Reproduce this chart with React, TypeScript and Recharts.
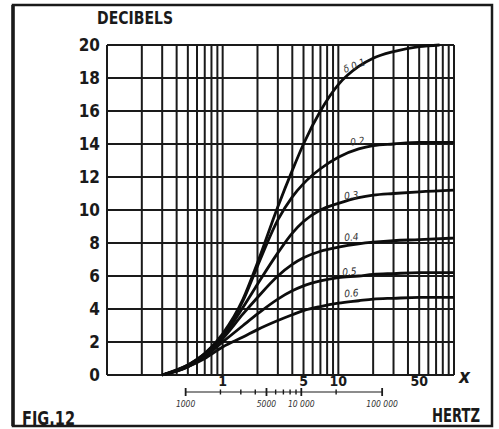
import { CartesianGrid, Line, LineChart, XAxis, YAxis } from "recharts";

// x = f / f0 (log scale), gain in dB, one curve per value of delta
const xValues = [0.3, 0.5, 0.7, 1, 1.5, 2, 3, 4, 5, 7, 10, 15, 20, 30, 50, 100];
const xValuesTop = [0.3, 0.5, 0.7, 1, 1.5, 2, 3, 4, 5, 7, 10, 15, 20, 30, 50, 75];

const delta01 = [0, 0.6, 1.3, 2.5, 4.6, 6.8, 10.2, 12.4, 14.0, 16.0, 17.6, 18.7, 19.2, 19.6, 19.9, 20.0];
const delta02 = [0, 0.6, 1.3, 2.4, 4.5, 6.6, 9.4, 10.8, 11.6, 12.5, 13.2, 13.7, 13.9, 14.0, 14.1, 14.1];
const delta03 = [0, 0.6, 1.2, 2.3, 4.1, 5.5, 7.4, 8.6, 9.3, 10.0, 10.4, 10.75, 10.9, 11.0, 11.1, 11.2];
const delta04 = [0, 0.5, 1.2, 2.2, 3.7, 4.7, 6.0, 6.7, 7.1, 7.5, 7.75, 7.95, 8.05, 8.15, 8.2, 8.3];
const delta05 = [0, 0.5, 1.1, 2.0, 3.0, 3.7, 4.6, 5.1, 5.4, 5.7, 5.9, 6.0, 6.1, 6.15, 6.2, 6.2];
const delta06 = [0, 0.5, 1.0, 1.7, 2.3, 2.75, 3.3, 3.65, 3.9, 4.15, 4.35, 4.5, 4.6, 4.65, 4.7, 4.7];

const curveNames = ["δ 0.1", "0.2", "0.3", "0.4", "0.5", "0.6"];

const yTicks = [0, 2, 4, 6, 8, 10, 12, 14, 16, 18, 20];
const xGridTicks = [
  0.1, 0.2, 0.3, 0.4, 0.5, 0.6, 0.7, 0.8, 0.9,
  1, 2, 3, 4, 5, 6, 7, 8, 9,
  10, 20, 30, 40, 50, 60, 70, 80, 90, 100,
];
const xLabelTicks = [1, 5, 10, 50];

// secondary frequency scale (hertz)
const hzDomain = [209, 209000];
const hzTicks = [1000, 2000, 3000, 4000, 5000, 6000, 7000, 8000, 9000, 10000, 20000, 50000];
const hzLabels = ["1000", "", "", "", "5000", "", "", "", "", "10 000", "", "100 000"];

const INK = "#1a1a1a";
const FONT = "'DejaVu Sans Condensed', 'Liberation Sans Narrow', 'DejaVu Sans', sans-serif";

const curves = [
  { name: curveNames[0], xs: xValuesTop, ys: delta01, dx: 16, dy: -19, angle: -22 },
  { name: curveNames[1], xs: xValues, ys: delta02, dx: 19, dy: -16, angle: -8 },
  { name: curveNames[2], xs: xValues, ys: delta03, dx: 13, dy: -8, angle: -6 },
  { name: curveNames[3], xs: xValues, ys: delta04, dx: 13, dy: -10, angle: -4 },
  { name: curveNames[4], xs: xValues, ys: delta05, dx: 11, dy: -6, angle: -4 },
  { name: curveNames[5], xs: xValues, ys: delta06, dx: 13, dy: -10, angle: -4 },
];
const LABEL_INDEX = 10;

function HzMark(props: any) {
  const { cx, cy, index } = props;
  const label = hzLabels[index] || "";
  const h = label ? 4 : 2.5;
  return (
    <g key={`hz-${index}`}>
      <line x1={cx} x2={cx} y1={cy - h} y2={cy + h} stroke={INK} strokeWidth={label ? 1.8 : 1.4} />
      {label && (
        <text x={cx} y={cy + 15} textAnchor="middle" fontSize={8.5} fontStyle="italic" fill="#333" fontFamily={FONT}>
          {label}
        </text>
      )}
    </g>
  );
}

export default function App() {
  const hzData = hzTicks.map((f) => ({ f, v: 0.5 }));
  return (
    <div style={{ position: "fixed", left: 0, top: 0, width: 499, height: 429, overflow: "hidden", background: "#fff" }}>
      <LineChart width={499} height={429} margin={{ top: 45, right: 45, bottom: 0, left: 0 }}>
        <CartesianGrid stroke={INK} strokeWidth={2} />
        <XAxis
          type="number"
          dataKey="x"
          scale="log"
          domain={[0.1, 100]}
          allowDataOverflow
          ticks={xGridTicks}
          interval={0}
          tickFormatter={(v) => (xLabelTicks.includes(v) ? `${v}` : "")}
          tickLine={false}
          axisLine={false}
          tickSize={0}
          tickMargin={1}
          height={54}
          tick={{ fill: INK, fontSize: 14, fontWeight: "bold", fontFamily: FONT }}
        />
        <YAxis
          type="number"
          domain={[0, 20]}
          ticks={yTicks}
          interval={0}
          width={107}
          tickLine={false}
          axisLine={false}
          tickSize={0}
          tickMargin={7}
          tick={{ fill: INK, fontSize: 17, fontWeight: "bold", fontFamily: FONT }}
        />
        {curves.map((c) => (
          <Line
            key={c.name}
            data={c.xs.map((x, i) => ({ x, y: c.ys[i] }))}
            dataKey="y"
            type="monotone"
            stroke="#0d0d0d"
            strokeWidth={2.8}
            dot={false}
            isAnimationActive={false}
            label={(p: any) =>
              p.index === LABEL_INDEX ? (
                <text
                  key={`lbl-${c.name}`}
                  x={p.x + c.dx}
                  y={p.y + c.dy}
                  textAnchor="middle"
                  dominantBaseline="central"
                  fontSize={10}
                  fontStyle="italic"
                  fill="#333"
                  fontFamily={FONT}
                  transform={`rotate(${c.angle} ${p.x + c.dx} ${p.y + c.dy})`}
                >
                  {c.name}
                </text>
              ) : (
                <g key={`lbl-${c.name}-${p.index}`} />
              )
            }
          />
        ))}
      </LineChart>
      <div style={{ position: "absolute", left: 0, top: 380 }}>
        <LineChart width={499} height={46} data={hzData} margin={{ top: 0, right: 45, bottom: 22, left: 107 }}>
          <XAxis xAxisId={0} type="number" dataKey="f" scale="log" domain={hzDomain} allowDataOverflow hide />
          <YAxis type="number" domain={[0, 1]} hide />
          <Line dataKey="v" stroke={INK} strokeWidth={1.2} dot={<HzMark />} isAnimationActive={false} />
        </LineChart>
      </div>
      <svg width={499} height={429} style={{ position: "absolute", left: 0, top: 0, pointerEvents: "none" }}>
        <rect x={13} y={5} width={479} height={421} fill="none" stroke={INK} strokeWidth={2.5} />
        <line x1={13} x2={13} y1={5} y2={426} stroke={INK} strokeWidth={3.5} />
        <text x={135} y={24} textAnchor="middle" fontSize={18} fontWeight="bold" fill={INK} fontFamily={FONT} textLength={76} lengthAdjust="spacingAndGlyphs">
          DECIBELS
        </text>
        <text x={22} y={425} fontSize={19} fontWeight="bold" fill={INK} fontFamily={FONT} textLength={53} lengthAdjust="spacingAndGlyphs">
          FIG.12
        </text>
        <text x={432} y={422} fontSize={19} fontWeight="bold" fill={INK} fontFamily={FONT} textLength={48} lengthAdjust="spacingAndGlyphs">
          HERTZ
        </text>
        <text x={459} y={383} fontSize={19} fontStyle="italic" fontWeight="bold" fill={INK} fontFamily={FONT}>
          x
        </text>
      </svg>
    </div>
  );
}
